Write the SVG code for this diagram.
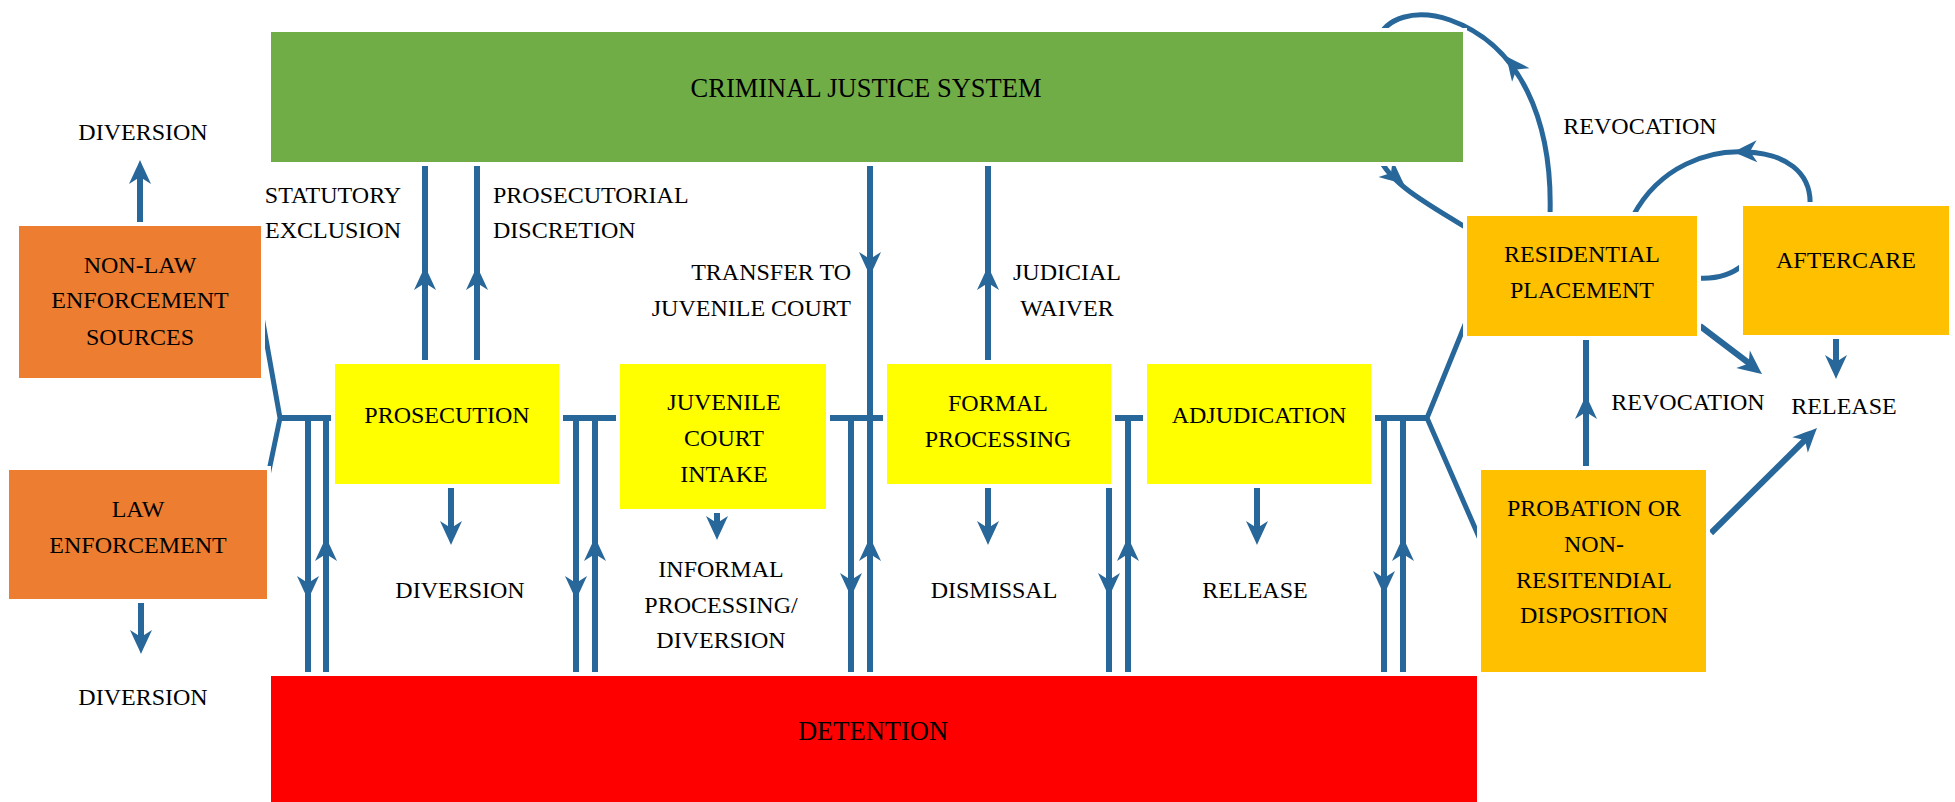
<svg xmlns="http://www.w3.org/2000/svg" xmlns:xlink="http://www.w3.org/1999/xlink" width="1955" height="802" viewBox="0 0 1955 802">
<style>
  text { font-family: "Liberation Serif", "Times New Roman", serif; font-size: 24px; fill: #000; text-anchor: middle; }
  .big { font-size: 26.5px; }
  .box { stroke: #fff; stroke-width: 8; paint-order: stroke; }
  .ln { fill: none; stroke: #28679a; stroke-width: 6; stroke-linecap: butt; }
  .thin { fill: none; stroke: #28679a; stroke-width: 5; stroke-linejoin: miter; }
  .ah { fill: #28679a; }
</style>
<defs>
  <path id="ah" d="M0,0 C-7,-3 -15,-7 -24,-11 L-17,0 L-24,11 C-15,7 -7,3 0,0 Z"/>
</defs>
<rect width="1955" height="802" fill="#fff"/>

<g id="connectors">
  <!-- left fork -->
  <polyline class="thin" points="259,300 280,418 265,490"/>
  <line class="ln" x1="280" y1="418" x2="335" y2="418"/>
  <line class="ln" x1="308" y1="418" x2="308" y2="676"/>
  <line class="ln" x1="326" y1="418" x2="326" y2="676"/>
  <use href="#ah" class="ah" transform="translate(308,600) rotate(90)"/>
  <use href="#ah" class="ah" transform="translate(326,537) rotate(-90)"/>

  <!-- prosecution / juvenile -->
  <line class="ln" x1="559" y1="418" x2="620" y2="418"/>
  <line class="ln" x1="576" y1="418" x2="576" y2="676"/>
  <line class="ln" x1="595" y1="418" x2="595" y2="676"/>
  <use href="#ah" class="ah" transform="translate(576,600) rotate(90)"/>
  <use href="#ah" class="ah" transform="translate(595,537) rotate(-90)"/>

  <!-- juvenile / formal -->
  <line class="ln" x1="826" y1="418" x2="887" y2="418"/>
  <line class="ln" x1="851" y1="418" x2="851" y2="676"/>
  <line class="ln" x1="870" y1="162" x2="870" y2="676"/>
  <use href="#ah" class="ah" transform="translate(851,597) rotate(90)"/>
  <use href="#ah" class="ah" transform="translate(870,537) rotate(-90)"/>
  <use href="#ah" class="ah" transform="translate(870,276) rotate(90)"/>

  <!-- formal / adjudication -->
  <line class="ln" x1="1111" y1="418" x2="1147" y2="418"/>
  <line class="ln" x1="1109" y1="418" x2="1109" y2="676"/>
  <line class="ln" x1="1128" y1="418" x2="1128" y2="676"/>
  <use href="#ah" class="ah" transform="translate(1109,597) rotate(90)"/>
  <use href="#ah" class="ah" transform="translate(1128,537) rotate(-90)"/>

  <!-- adjudication / right fork -->
  <line class="ln" x1="1371" y1="418" x2="1427" y2="418"/>
  <line class="ln" x1="1384" y1="418" x2="1384" y2="676"/>
  <line class="ln" x1="1403" y1="418" x2="1403" y2="676"/>
  <use href="#ah" class="ah" transform="translate(1384,595) rotate(90)"/>
  <use href="#ah" class="ah" transform="translate(1403,537) rotate(-90)"/>
  <polyline class="thin" points="1475,300 1427,418 1489,560"/>

  <!-- statutory / prosecutorial / judicial -->
  <line class="ln" x1="425" y1="162" x2="425" y2="364"/>
  <line class="ln" x1="477" y1="162" x2="477" y2="364"/>
  <use href="#ah" class="ah" transform="translate(425,266) rotate(-90)"/>
  <use href="#ah" class="ah" transform="translate(477,266) rotate(-90)"/>
  <line class="ln" x1="988" y1="162" x2="988" y2="364"/>
  <use href="#ah" class="ah" transform="translate(988,266) rotate(-90)"/>

  <!-- diversion arrows left -->
  <line class="ln" x1="140" y1="226" x2="140" y2="170"/>
  <use href="#ah" class="ah" transform="translate(140,160) rotate(-90)"/>
  <line class="ln" x1="141" y1="599" x2="141" y2="645"/>
  <use href="#ah" class="ah" transform="translate(141,654) rotate(90)"/>

  <!-- box-to-outcome arrows -->
  <line class="ln" x1="451" y1="484" x2="451" y2="535"/>
  <use href="#ah" class="ah" transform="translate(451,545) rotate(90)"/>
  <line class="ln" x1="717" y1="509" x2="717" y2="530"/>
  <use href="#ah" class="ah" transform="translate(717,540) rotate(90)"/>
  <line class="ln" x1="988" y1="484" x2="988" y2="535"/>
  <use href="#ah" class="ah" transform="translate(988,545) rotate(90)"/>
  <line class="ln" x1="1257" y1="484" x2="1257" y2="535"/>
  <use href="#ah" class="ah" transform="translate(1257,545) rotate(90)"/>

  <!-- big revocation loop -->
  <path class="thin" d="M1550,216 C1553,120 1520,45 1450,20 C1415,8 1385,18 1378,40 L1376,150 C1385,180 1420,200 1467,228"/>
  <use href="#ah" class="ah" transform="translate(1506,56) rotate(-128)"/>
  <use href="#ah" class="ah" transform="translate(1404,184) rotate(40)"/>

  <!-- small loop aftercare -> residential -->
  <path class="thin" d="M1633,216 C1660,165 1710,150 1745,152 C1785,153 1812,172 1810,206"/>
  <use href="#ah" class="ah" transform="translate(1733,152) rotate(178)"/>
  <path class="thin" d="M1697,278 Q1725,280 1743,265"/>

  <!-- release arrows -->
  <line class="ln" x1="1700" y1="326" x2="1754" y2="367"/>
  <use href="#ah" class="ah" transform="translate(1762,374) rotate(38)"/>
  <line class="ln" x1="1836" y1="335" x2="1836" y2="370"/>
  <use href="#ah" class="ah" transform="translate(1836,379) rotate(90)"/>
  <line class="ln" x1="1711" y1="533" x2="1810" y2="435"/>
  <use href="#ah" class="ah" transform="translate(1817,428) rotate(-45)"/>

  <!-- probation -> residential revocation -->
  <line class="ln" x1="1586" y1="470" x2="1586" y2="336"/>
  <use href="#ah" class="ah" transform="translate(1586,395) rotate(-90)"/>
</g>

<g id="criminal-justice-system">
  <rect class="box" x="271" y="32" width="1192" height="130" fill="#70ad47"/>
  <text class="big" x="866" y="97">CRIMINAL JUSTICE SYSTEM</text>
</g>
<g id="detention">
  <rect class="box" x="271" y="676" width="1206" height="130" fill="#ff0000"/>
  <text class="big" x="873" y="740">DETENTION</text>
</g>
<g id="non-law-enforcement">
  <rect class="box" x="19" y="226" width="242" height="152" fill="#ed7d31"/>
  <text x="140" y="273">NON-LAW</text>
  <text x="140" y="308">ENFORCEMENT</text>
  <text x="140" y="345">SOURCES</text>
</g>
<g id="law-enforcement">
  <rect class="box" x="9" y="470" width="258" height="129" fill="#ed7d31"/>
  <text x="138" y="517">LAW</text>
  <text x="138" y="553">ENFORCEMENT</text>
</g>
<g id="prosecution">
  <rect class="box" x="335" y="364" width="224" height="120" fill="#ffff00"/>
  <text x="447" y="423">PROSECUTION</text>
</g>
<g id="juvenile-court-intake">
  <rect class="box" x="620" y="364" width="206" height="145" fill="#ffff00"/>
  <text x="724" y="410">JUVENILE</text>
  <text x="724" y="446">COURT</text>
  <text x="724" y="482">INTAKE</text>
</g>
<g id="formal-processing">
  <rect class="box" x="887" y="364" width="224" height="120" fill="#ffff00"/>
  <text x="998" y="411">FORMAL</text>
  <text x="998" y="447">PROCESSING</text>
</g>
<g id="adjudication">
  <rect class="box" x="1147" y="364" width="224" height="120" fill="#ffff00"/>
  <text x="1259" y="423">ADJUDICATION</text>
</g>
<g id="residential-placement">
  <rect class="box" x="1467" y="216" width="230" height="120" fill="#ffc000"/>
  <text x="1582" y="262">RESIDENTIAL</text>
  <text x="1582" y="298">PLACEMENT</text>
</g>
<g id="aftercare">
  <rect class="box" x="1743" y="206" width="206" height="129" fill="#ffc000"/>
  <text x="1846" y="268">AFTERCARE</text>
</g>
<g id="probation">
  <rect class="box" x="1481" y="470" width="225" height="202" fill="#ffc000"/>
  <text x="1594" y="516">PROBATION OR</text>
  <text x="1594" y="552">NON-</text>
  <text x="1594" y="588">RESITENDIAL</text>
  <text x="1594" y="623">DISPOSITION</text>
</g>

<g id="labels">
  <text x="143" y="140">DIVERSION</text>
  <text x="143" y="705">DIVERSION</text>
  <text x="333" y="203">STATUTORY</text>
  <text x="333" y="238">EXCLUSION</text>
  <text x="493" y="203" style="text-anchor:start">PROSECUTORIAL</text>
  <text x="493" y="238" style="text-anchor:start">DISCRETION</text>
  <text x="851" y="280" style="text-anchor:end">TRANSFER TO</text>
  <text x="851" y="316" style="text-anchor:end">JUVENILE COURT</text>
  <text x="1067" y="280">JUDICIAL</text>
  <text x="1067" y="316">WAIVER</text>
  <text x="460" y="598">DIVERSION</text>
  <text x="721" y="577">INFORMAL</text>
  <text x="721" y="613">PROCESSING/</text>
  <text x="721" y="648">DIVERSION</text>
  <text x="994" y="598">DISMISSAL</text>
  <text x="1255" y="598">RELEASE</text>
  <text x="1640" y="134">REVOCATION</text>
  <text x="1688" y="410">REVOCATION</text>
  <text x="1844" y="414">RELEASE</text>
</g>
</svg>
